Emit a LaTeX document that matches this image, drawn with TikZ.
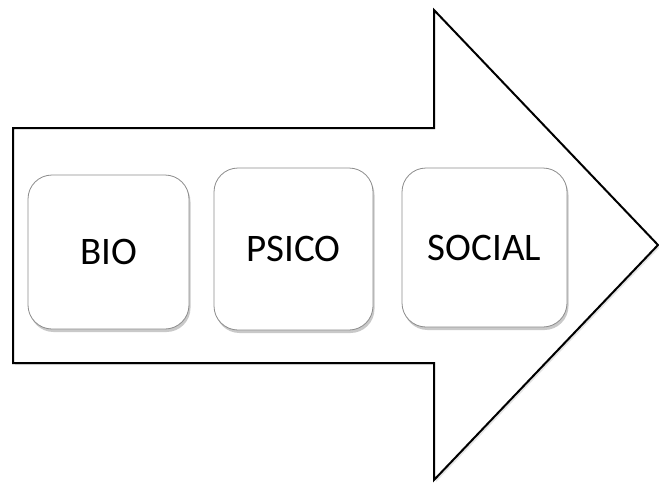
\documentclass[tikz,border=0pt]{standalone}
\usepackage{fontspec}
\setmainfont{Carlito}
\usetikzlibrary{shadows}
\begin{document}
\begin{tikzpicture}[x=1pt,y=-1pt,
  stage/.style={draw=black!45, line width=0.8pt, fill=white, rounded corners=24pt,
    inner sep=0pt, font=\fontsize{39}{44}\selectfont,
    drop shadow={shadow xshift=1.5pt, shadow yshift=-3pt, fill=black!60, opacity=0.35}},
  bigarrow/.style={draw=black, line width=2pt, fill=white, line join=miter,
    drop shadow={shadow xshift=2pt, shadow yshift=-2pt, fill=black!40, opacity=0.25}}]
  \useasboundingbox (0,0) rectangle (659,483);
  % block arrow
  \draw[bigarrow] (13,128) -- (434,128) -- (434,10) -- (658,245) -- (434,480)
    -- (434,363) -- (13,363) -- cycle;
  % the three stages
  \node[stage, minimum width=161pt, minimum height=154pt] (bio) at (108.5,252) {BIO};
  \node[stage, minimum width=159pt, minimum height=162pt] (psico) at (293.5,249) {PSICO};
  \node[stage, minimum width=165pt, minimum height=159pt] (social) at (484.5,247.5) {SOCIAL};
\end{tikzpicture}
\end{document}
